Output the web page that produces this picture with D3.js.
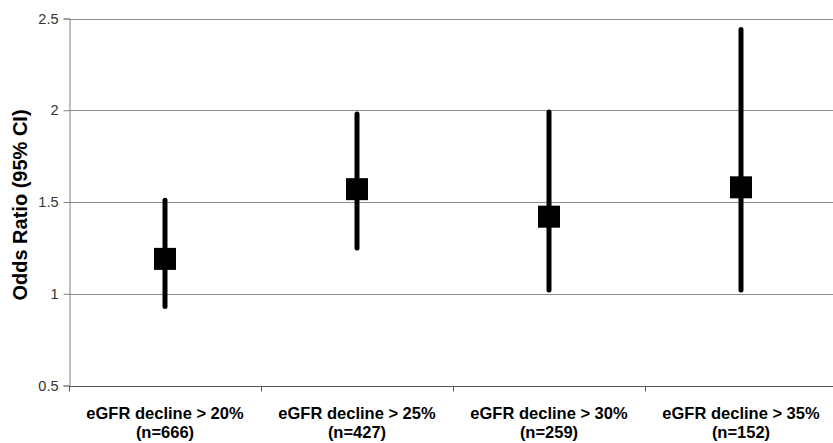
<!DOCTYPE html>
<html>
<head>
<meta charset="utf-8">
<script src="https://cdn.jsdelivr.net/npm/d3@7"></script>
<style>
  body { margin: 0; background: #fff; }
  svg { display: block; font-family: Arial, "Liberation Sans", sans-serif; }
</style>
</head>
<body>
<div id="chart"></div>
<script>
// data
const groups = ["eGFR decline > 20%", "eGFR decline > 25%", "eGFR decline > 30%", "eGFR decline > 35%"];
const sizes = ["(n=666)", "(n=427)", "(n=259)", "(n=152)"];
const oddsRatio = [1.19, 1.57, 1.42, 1.58];
const ciLow = [0.93, 1.25, 1.02, 1.02];
const ciHigh = [1.51, 1.98, 1.99, 2.44];
const yTicks = [0.5, 1, 1.5, 2, 2.5];

const width = 833, height = 443;
const margin = { top: 18.5, right: -4, bottom: 57.5, left: 69 };

const svg = d3.select("#chart").append("svg")
    .attr("width", width)
    .attr("height", height);

const x = d3.scaleBand()
    .domain(groups)
    .range([margin.left, width - margin.right]);
const y = d3.scaleLinear()
    .domain([0.5, 2.5])
    .range([height - margin.bottom, margin.top]);

// gridlines
svg.append("g")
    .selectAll("line")
    .data(yTicks.slice(1))
    .join("line")
    .attr("x1", margin.left)
    .attr("x2", width)
    .attr("y1", d => Math.round(y(d)) + 0.5)
    .attr("y2", d => Math.round(y(d)) + 0.5)
    .attr("stroke", "#8c8c8c")
    .attr("stroke-width", 1);

// y axis
const gy = svg.append("g")
    .attr("transform", `translate(${margin.left + 0.5},0)`)
    .call(d3.axisLeft(y).tickValues(yTicks).tickFormat(d3.format("")).tickSize(6).tickPadding(5));
gy.select(".domain").attr("stroke", "#808080");
gy.selectAll(".tick line").attr("stroke", "#808080");
gy.selectAll(".tick text")
    .attr("font-size", 14.5)
    .attr("fill", "#333")
    .attr("font-family", "Arial, 'Liberation Sans', sans-serif");

// x axis
const gx = svg.append("g")
    .attr("transform", `translate(0,${Math.round(y(0.5)) + 0.5})`);
gx.append("line")
    .attr("x1", margin.left)
    .attr("x2", width)
    .attr("stroke", "#555");
gx.selectAll(".xtick")
    .data(groups.concat([null]))
    .join("line")
    .attr("class", "xtick")
    .attr("x1", (d, i) => Math.round(margin.left + i * x.step()) + 0.5)
    .attr("x2", (d, i) => Math.round(margin.left + i * x.step()) + 0.5)
    .attr("y1", 0)
    .attr("y2", 5)
    .attr("stroke", "#555");

const labels = svg.append("g")
    .selectAll("text")
    .data(groups)
    .join("text")
    .attr("x", d => x(d) + x.bandwidth() / 2)
    .attr("y", 419)
    .attr("text-anchor", "middle")
    .attr("font-size", 16.5)
    .attr("font-weight", "bold")
    .attr("fill", "#000");
labels.append("tspan")
    .attr("x", d => x(d) + x.bandwidth() / 2)
    .text(d => d);
labels.append("tspan")
    .attr("x", d => x(d) + x.bandwidth() / 2)
    .attr("dy", 19)
    .text((d, i) => sizes[i]);

// y axis title
svg.append("text")
    .attr("transform", `translate(27,205) rotate(-90)`)
    .attr("text-anchor", "middle")
    .attr("font-size", 20)
    .attr("font-weight", "bold")
    .text("Odds Ratio (95% CI)");

// confidence intervals
const marks = svg.append("g");
marks.selectAll("line")
    .data(groups)
    .join("line")
    .attr("x1", d => x(d) + x.bandwidth() / 2)
    .attr("x2", d => x(d) + x.bandwidth() / 2)
    .attr("y1", (d, i) => y(ciLow[i]))
    .attr("y2", (d, i) => y(ciHigh[i]))
    .attr("stroke", "#000")
    .attr("stroke-width", 5)
    .attr("stroke-linecap", "round");

const box = 22;
marks.selectAll("rect")
    .data(groups)
    .join("rect")
    .attr("x", d => x(d) + x.bandwidth() / 2 - box / 2)
    .attr("y", (d, i) => y(oddsRatio[i]) - box / 2)
    .attr("width", box)
    .attr("height", box)
    .attr("fill", "#000");
</script>
</body>
</html>
